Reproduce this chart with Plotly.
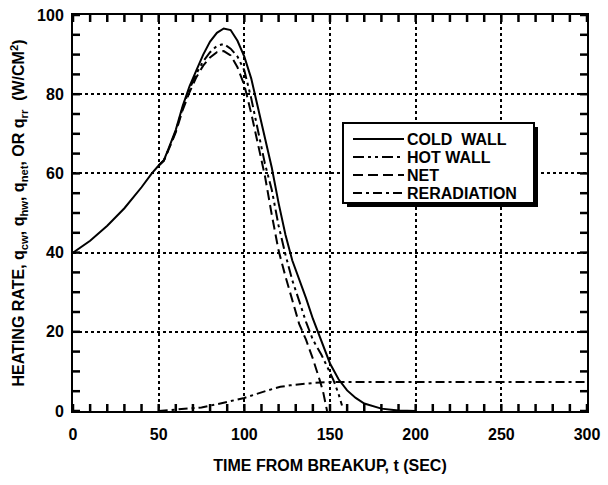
import plotly.graph_objects as go

# Time from breakup (s) and heating-rate histories (W/cm^2)
t_cold = [0, 10, 20, 30, 40, 46, 50, 53, 56, 60, 64, 68, 72, 76, 80, 84, 88, 92, 96,
          100, 104, 108, 112, 116, 120, 124, 128, 132, 136, 140, 145, 150, 155, 160,
          165, 170, 180, 190, 200]
q_cold = [40, 43, 46.8, 51.2, 56.5, 60, 62, 63.3, 66.5, 71, 77, 82, 86, 90, 93.3, 95.5,
          96.6, 96.2, 93.5, 89.5, 84, 76.5, 69, 61.5, 52.5, 44.5, 38, 33.5, 28.5, 23.3,
          17.5, 12, 8, 5.2, 3.3, 1.9, 0.6, 0.1, 0]

t_hot = [50, 53, 56, 60, 64, 68, 72, 76, 80, 84, 88, 92, 96, 100, 104, 108, 112, 116,
         120, 124, 128, 132, 136, 140, 145, 150, 152, 155, 157]
q_hot = [62, 63.2, 66.3, 70.7, 76.5, 81.3, 85.2, 88.3, 90.6, 92.2, 92.7, 91.5, 89.5,
         86, 79, 71, 62.5, 55.9, 46.8, 39.5, 33, 27.8, 22.5, 18, 14.2, 9.7, 7.8, 4.3, 1.4]

t_net = [50, 53, 56, 60, 64, 68, 72, 76, 80, 84, 88, 92, 96, 100, 104, 108, 112, 116,
         120, 124, 128, 132, 136, 140, 144, 146, 148.3]
q_net = [62, 63.2, 66.2, 70.4, 76, 80.5, 84.3, 87.2, 89.3, 90.6, 90.9, 89.8, 86.8,
         82.3, 75.2, 67.3, 59.4, 49.6, 40.5, 34, 28, 22, 18, 13.2, 7.8, 4.8, 0]

t_rerad = [50, 60, 75, 86, 100, 113.5, 121, 127, 140.7, 150, 200, 250, 300]
q_rerad = [0, 0.3, 0.9, 1.9, 3.3, 5.2, 6.1, 6.5, 7.1, 7.3, 7.3, 7.3, 7.3]

series = [
    ("COLD  WALL", t_cold, q_cold, "solid"),
    ("HOT WALL", t_hot, q_hot, "11px,4px,3px,4px,3px,4px"),
    ("NET", t_net, q_net, "10px,5px"),
    ("RERADIATION", t_rerad, q_rerad, "9px,4px,3px,4px"),
]

# axis ranges and tick spacing
X_RANGE, X_MAJOR, X_MINOR = (0, 300), 50, 10
Y_RANGE, Y_MAJOR, Y_MINOR = (0, 100), 20, 5

W, H = 608, 485
L, R, T, B = 73, 21, 15, 74
PW, PH = W - L - R, H - T - B
TICK_PX = 7

FONT = "Liberation Sans, Arial, sans-serif"

fig = go.Figure()

# inward tick marks on all four sides of the frame, drawn as one line trace
x_len = TICK_PX * (X_RANGE[1] - X_RANGE[0]) / PW
y_len = TICK_PX * (Y_RANGE[1] - Y_RANGE[0]) / PH
tick_x, tick_y = [], []
for xv in range(X_RANGE[0], X_RANGE[1] + 1, X_MINOR):
    tick_x += [xv, xv, None, xv, xv, None]
    tick_y += [Y_RANGE[0], Y_RANGE[0] + y_len, None, Y_RANGE[1] - y_len, Y_RANGE[1], None]
for yv in range(Y_RANGE[0], Y_RANGE[1] + 1, Y_MINOR):
    tick_x += [X_RANGE[0], X_RANGE[0] + x_len, None, X_RANGE[1] - x_len, X_RANGE[1], None]
    tick_y += [yv, yv, None, yv, yv, None]
fig.add_trace(go.Scatter(x=tick_x, y=tick_y, mode="lines", showlegend=False,
                         hoverinfo="skip", line=dict(color="black", width=2.5)))

for name, tx, qy, dash in series:
    fig.add_trace(go.Scatter(x=tx, y=qy, mode="lines", name=name, showlegend=False,
                             line=dict(color="black", width=2, dash=dash)))


def px_x(p):
    return (p - L) / PW


def px_y(p):
    return (H - B - p) / PH


# legend box with drop shadow
bx0, bx1, by0, by1 = 343, 534, 123, 203
fig.add_shape(type="rect", xref="paper", yref="paper",
              x0=px_x(bx0 + 4), x1=px_x(bx1 + 4), y0=px_y(by1 + 4), y1=px_y(by0 + 4),
              fillcolor="black", line=dict(color="black", width=0), layer="above")
fig.add_shape(type="rect", xref="paper", yref="paper",
              x0=px_x(bx0), x1=px_x(bx1), y0=px_y(by1), y1=px_y(by0),
              fillcolor="white", line=dict(color="black", width=2), layer="above")
rows = [139, 157, 175, 193]
for (name, _, _, dash), ry in zip(series, rows):
    fig.add_shape(type="line", xref="paper", yref="paper",
                  x0=px_x(353), x1=px_x(404), y0=px_y(ry), y1=px_y(ry),
                  line=dict(color="black", width=2, dash=dash), layer="above")
    fig.add_annotation(xref="paper", yref="paper", x=px_x(405), y=px_y(ry),
                       text="<b>" + name + "</b>", showarrow=False,
                       xanchor="left", yanchor="middle",
                       font=dict(family=FONT, size=16, color="black"))

axis_common = dict(
    showline=True, linecolor="black", linewidth=2, mirror=True,
    ticks="",
    showgrid=True, gridcolor="black", gridwidth=1.5, griddash="dot",
    zeroline=False,
    tickprefix="<b>", ticksuffix="</b>",
    tickfont=dict(family=FONT, size=16, color="black"),
)

fig.update_xaxes(range=list(X_RANGE), tick0=0, dtick=X_MAJOR, ticklabelstandoff=8,
                 title=dict(text="<b>TIME FROM BREAKUP, t (SEC)</b>", standoff=18,
                            font=dict(family=FONT, size=16, color="black")),
                 **axis_common)
fig.update_yaxes(range=list(Y_RANGE), tick0=0, dtick=Y_MAJOR, ticklabelstandoff=4,
                 title=dict(text="<b>HEATING RATE, q<sub>cw</sub>, q<sub>hw</sub>, "
                                 "q<sub>net</sub>, OR q<sub>rr</sub>  (W/CM<sup>2</sup>)</b>",
                            standoff=8,
                            font=dict(family=FONT, size=16, color="black")),
                 **axis_common)

fig.update_layout(
    width=W, height=H,
    margin=dict(l=L, r=R, t=T, b=B, autoexpand=False),
    paper_bgcolor="white", plot_bgcolor="white",
    font=dict(family=FONT, color="black"),
)

fig.write_html("out.html")
